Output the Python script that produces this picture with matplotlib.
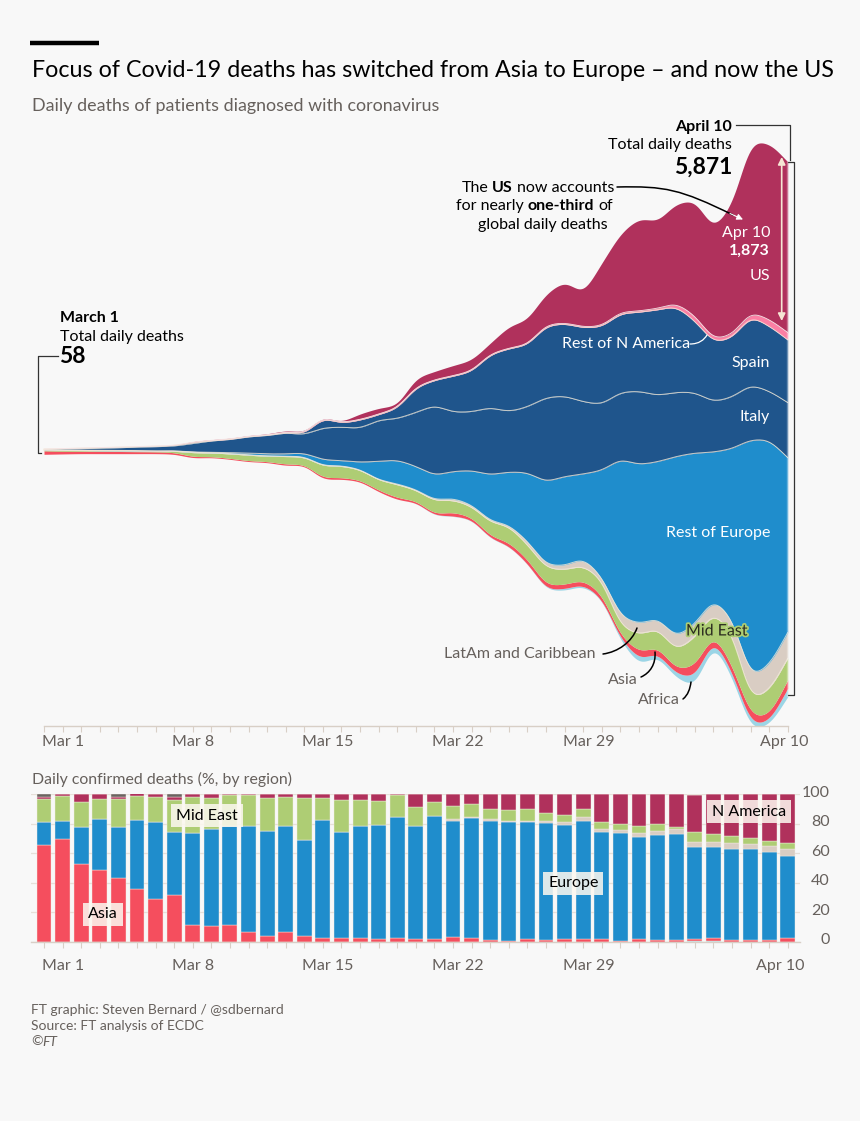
import numpy as np
import matplotlib
matplotlib.use("Agg")
import matplotlib.pyplot as plt
import matplotlib.patheffects as pe
from matplotlib.path import Path
from matplotlib.patches import PathPatch
from matplotlib.ticker import MultipleLocator
from matplotlib.transforms import ScaledTranslation

plt.rcParams['font.family'] = ['Lato', 'DejaVu Sans']

# ------------------------------------------------------------------
# Data: stream chart, daily deaths per region
# ------------------------------------------------------------------
days = np.arange(41)
tick_days = [0, 7, 14, 21, 28, 40]
tick_labels = ["Mar 1", "Mar 8", "Mar 15", "Mar 22", "Mar 29", "Apr 10"]

us = [1, 0, 1, 0, 0, 0, 0, 4, 7, 7, 7, 7, 11, 15, 11, 11, 11, 59, 62, 37, 92,
      92, 110, 117, 128, 231, 275, 348, 439, 403, 677, 860, 999, 970, 1098, 1244, 1233, 1446, 1830, 1922, 1873]
rest_na = [0, 0, 0, 0, 0, 0, 0, 0, 4, 4, 4, 4, 4, 4, 7, 7, 7, 7, 7, 7, 7,
           7, 7, 7, 7, 7, 7, 11, 11, 11, 11, 15, 15, 18, 37, 55, 37, 37, 48, 73, 81]
spain = [0, 4, 7, 7, 7, 7, 7, 7, 11, 4, 4, 4, 4, 7, 18, 92, 51, 84, 66, 121, 260,
         285, 388, 450, 578, 681, 688, 776, 794, 813, 849, 864, 871, 933, 926, 787, 666, 659, 739, 714, 688]
italy = [7, 11, 15, 22, 29, 37, 48, 55, 92, 124, 143, 179, 201, 227, 216, 340, 366, 377, 447, 465, 593,
         743, 659, 651, 725, 673, 732, 904, 878, 794, 732, 739, 794, 732, 703, 659, 564, 567, 593, 549, 604]
rest_europe = [4, 4, 4, 4, 4, 4, 0, 0, 4, 4, 11, 18, 22, 26, 40, 62, 59, 88, 198, 256, 256,
               271, 300, 381, 501, 589, 750, 900, 970, 952, 1190, 1676, 1742, 1739, 1951, 1867, 1662, 1903, 2518, 2434, 1921]
latam = [0, 2, 2, 2, 2, 2, 2, 4, 4, 4, 4, 4, 4, 4, 4, 4, 4, 4, 4, 7, 7,
         11, 18, 18, 15, 18, 37, 37, 48, 73, 48, 99, 117, 117, 143, 146, 146, 165, 238, 275, 282]
mid_east = [8, 8, 8, 6, 6, 6, 6, 15, 40, 40, 48, 59, 59, 81, 84, 124, 124, 113, 113, 139, 121,
            139, 132, 121, 150, 172, 165, 183, 161, 157, 154, 121, 183, 201, 212, 293, 249, 329, 209, 256, 238]
asia = [38, 30, 26, 25, 24, 22, 20, 18, 15, 11, 11, 11, 11, 15, 11, 18, 18, 15, 18, 22, 18,
        18, 37, 26, 26, 37, 44, 44, 48, 48, 44, 37, 73, 66, 62, 110, 62, 73, 84, 73, 92]
africa = [0, 0, 0, 0, 0, 0, 0, 0, 0, 0, 0, 0, 0, 0, 0, 0, 0, 0, 0, 0, 2,
          4, 4, 4, 4, 4, 4, 7, 18, 15, 7, 26, 55, 37, 48, 92, 55, 55, 55, 48, 92]
# bottom edge of the stream, in deaths below the centre line
baseline = [-22, -18, -15, -15, -15, -15, -15, -22, -59, -59, -77, -102, -113, -143, -154, -285, -296, -326, -432, -516, -560,
            -684, -703, -754, -937, -1039, -1230, -1482, -1512, -1482, -1636, -2050, -2298, -2262, -2463, -2518, -2170, -2481, -2976, -2968, -2683]

# ------------------------------------------------------------------
# Data: share of daily deaths by region, %
# ------------------------------------------------------------------
pc_africa = [0, 0, 0, 0, 0, 0, 0, 0, 0, 0, 0, 0, 0, 0, 0, 0, 0, 0, 0, 0, 0,
             0, 0, 0, 0.2, 0.2, 0.2, 0.2, 0.3, 0.3, 0.3, 0.3, 0.3, 0.3, 0.3, 0.7, 0.5, 0.3, 0.3, 0.3, 0.3]
pc_asia = [66, 70, 53, 49, 43, 36, 29, 32, 11.5, 10.5, 11.5, 7, 4, 7, 4, 3, 3, 3, 2, 3, 2,
           2, 3.5, 2.5, 1.3, 0.8, 1.8, 1.3, 1.7, 1.7, 1.7, 0.7, 1.7, 1.2, 1.2, 1.6, 2.5, 1.2, 1.2, 1.2, 2.2]
pc_europe = [15, 12, 24.8, 34.5, 34.7, 46.6, 52.5, 42.5, 62.6, 65.8, 66.7, 71.8, 71.2, 71.2, 65.1, 79.5, 71.6, 75.6, 77.3, 81.7, 76.6,
             83.6, 78.7, 81.3, 80.7, 80.3, 79.3, 78.9, 77.3, 80, 72.5, 72.6, 69.2, 70.7, 71.7, 61.7, 61.6, 61.7, 61.2, 59.4, 55.4]
pc_latam = [0, 0, 0, 0, 0, 0, 0, 0, 0, 0, 0, 0, 0, 0, 0, 0, 0, 0, 0, 0, 0,
            0, 0.9, 0.7, 0.9, 0.9, 0.9, 1.8, 1.8, 2.5, 2, 2.2, 2.9, 2.7, 3.4, 3.4, 3.4, 3.6, 3.6, 3.8, 5]
pc_mid_east = [15.5, 17, 17.1, 13.5, 18.9, 16.5, 16.7, 21.7, 23.9, 20.9, 21.3, 20.7, 22.1, 20.2, 28.4, 15.3, 21.8, 17.8, 16.2, 15.1, 13.1,
               9.4, 9, 8.7, 6.8, 7, 8.1, 5, 4.7, 5.4, 4.8, 4.4, 4.5, 4.7, 1.3, 7.1, 5.4, 4.7, 3.9, 3.7, 4]
pc_n_america = [1.5, 1, 5.1, 3.5, 1.4, 1.5, 1.8, 2, 2, 2.8, 0.5, 0.5, 2.7, 1.6, 2.5, 2.2, 3.6, 3.6, 4.5, 0.2, 8.3,
                5, 7.9, 6.8, 10.1, 10.8, 9.7, 12.8, 14.2, 10.1, 18.7, 19.8, 21.4, 20.3, 22.1, 25.2, 26.6, 28.4, 29.7, 31.5, 33.1]
pc_other = [2, 0, 0, 0, 2, 0, 0, 1.8, 0, 0, 0, 0, 0, 0, 0, 0, 0, 0, 0, 0, 0,
            0, 0, 0, 0, 0, 0, 0, 0, 0, 0, 0, 0, 0, 0, 0, 0, 0, 0, 0, 0]

# colours
BG = '#f8f8f8'
C_US = '#b0315c'
C_PINK = '#fb7fa4'
C_NAVY = '#1f558c'
C_BLUE = '#1f8dcc'
C_LATAM = '#d9cdc3'
C_GREEN = '#aecd74'
C_RED = '#f54e5e'
C_AFRICA = '#9bd5e6'
C_OTHER = '#6a6360'
GREY = '#66605c'
TICK = '#d8cfc6'


def smooth(values, n=12):
    # catmull-rom through the daily values, then a short moving average,
    # the stream in the original is drawn soft like this
    v = np.asarray(values, dtype=float)
    m = np.gradient(v)
    t = np.linspace(0, 1, n, endpoint=False)[:, None]
    h00 = 2 * t**3 - 3 * t**2 + 1
    h10 = t**3 - 2 * t**2 + t
    h01 = -2 * t**3 + 3 * t**2
    h11 = t**3 - t**2
    out = h00 * v[:-1] + h10 * m[:-1] + h01 * v[1:] + h11 * m[1:]
    out = np.append(out.T.ravel(), v[-1])
    kernel = np.bartlett(15)
    kernel = kernel / kernel.sum()
    padded = np.pad(out, 7, mode='reflect', reflect_type='odd')
    return np.convolve(padded, kernel, mode='valid')


W, H = 860, 1121
fig = plt.figure(figsize=(W / 100, H / 100), dpi=100, facecolor=BG)


def px_axes(left, top, right, bottom):
    return fig.add_axes([left / W, 1 - bottom / H, (right - left) / W, (bottom - top) / H])


def shift_labels(axis_labels, dx, dy=0):
    for lab in axis_labels:
        lab.set_transform(lab.get_transform() + ScaledTranslation(dx / 100, dy / 100, fig.dpi_scale_trans))


X0, X40 = 44.0, 787.7
DAY = (X40 - X0) / 40
SCALE = 535 / 5871  # pixels per death
Y_ZERO = 452.3

# ------------------------------------------------------------------
# Stream chart
# ------------------------------------------------------------------
ax = px_axes(X0, 120, X40, 726)
ax.set_facecolor('none')
ax.set_xlim(0, 40)
ax.set_ylim((Y_ZERO - 726) / SCALE, (Y_ZERO - 120) / SCALE)

xs = np.linspace(0, 40, 40 * 12 + 1)
stack = [(africa, C_AFRICA), (asia, C_RED), (mid_east, C_GREEN), (latam, C_LATAM),
         (rest_europe, C_BLUE), (italy, C_NAVY), (spain, C_NAVY), (rest_na, C_PINK), (us, C_US)]
low = smooth(baseline)
for i, (vals, col) in enumerate(stack):
    high = low + np.clip(smooth(vals), 0, None)
    ax.fill_between(xs, low, high, color=col, lw=0, zorder=2)
    if i in (2, 3, 4, 5, 6):
        ax.plot(xs, high, color='#f3ead8', lw=0.7, alpha=0.8, zorder=3, clip_on=False)
    if i == 7:
        ax.plot(xs, high, color='#f7e3e6', lw=0.6, zorder=3)
    low = high

for s in ('top', 'left', 'right'):
    ax.spines[s].set_visible(False)
ax.spines['bottom'].set_color(TICK)
ax.spines['bottom'].set_linewidth(1)
ax.set_yticks([])
ax.xaxis.set_minor_locator(MultipleLocator(1))
ax.set_xticks(tick_days, tick_labels)
ax.tick_params(axis='x', which='both', length=4.5, width=0.8, color=TICK)
ax.tick_params(axis='x', which='major', pad=2, labelsize=11.5, labelcolor=GREY)
for lab in ax.get_xticklabels():
    lab.set_ha('left')
ax.get_xticklabels()[-1].set_ha('center')
shift_labels(ax.get_xticklabels()[:-1], -2)
shift_labels(ax.get_xticklabels()[-1:], -3)

# ------------------------------------------------------------------
# Stacked bars
# ------------------------------------------------------------------
bx = px_axes(31, 794.3, 800, 942)
bx.set_facecolor('none')
bx.set_xlim((31 - X0) / DAY, (800 - X0) / DAY)
bx.set_ylim(0, 100)
bx.set_axisbelow(True)
bx.yaxis.grid(True, color='#e6dfd8', lw=0.9)
bars = [(pc_africa, C_AFRICA), (pc_asia, C_RED), (pc_europe, C_BLUE), (pc_latam, C_LATAM),
        (pc_mid_east, C_GREEN), (pc_n_america, C_US), (pc_other, C_OTHER)]
bottom = np.zeros(len(days))
for vals, col in bars:
    bx.bar(days, vals, bottom=bottom, width=0.8, color=col, edgecolor='#f4ede4', linewidth=0.3, zorder=2)
    bottom = bottom + np.array(vals)

for s in ('top', 'left', 'right'):
    bx.spines[s].set_visible(False)
bx.spines['bottom'].set_color(TICK)
bx.spines['bottom'].set_linewidth(1)
bx.yaxis.tick_right()
bx.set_yticks([0, 20, 40, 60, 80, 100])
bx.tick_params(axis='y', length=0, pad=21.5, labelsize=11.5, labelcolor=GREY)
for lab in bx.get_yticklabels():
    lab.set_ha('right')
shift_labels(bx.get_yticklabels(), 0, 3)
bx.xaxis.set_minor_locator(MultipleLocator(1))
bx.set_xticks(tick_days, tick_labels)
bx.tick_params(axis='x', which='both', length=4.5, width=0.8, color=TICK)
bx.tick_params(axis='x', which='major', pad=7.8, labelsize=11.5, labelcolor=GREY)
for lab in bx.get_xticklabels():
    lab.set_ha('left')
bx.get_xticklabels()[-1].set_ha('center')
shift_labels(bx.get_xticklabels()[:-1], -2)
shift_labels(bx.get_xticklabels()[-1:], -7)

# ------------------------------------------------------------------
# Overlay in picture pixels for titles and call-outs
# ------------------------------------------------------------------
ov = fig.add_axes([0, 0, 1, 1], zorder=10)
ov.set_xlim(0, W)
ov.set_ylim(H, 0)
ov.axis('off')


def label(x, y, s, size=11.5, color='black', ha='left', weight='normal', **kw):
    # Lato sits a bit high when centred, hence the extra 1.5 px
    return ov.text(x, y + 1.5, s, fontsize=size, color=color, ha=ha, va='center', fontweight=weight, **kw)


def curve(pts, color='black', lw=1.1):
    codes = [Path.MOVETO] + [Path.CURVE4] * (len(pts) - 1)
    ov.add_patch(PathPatch(Path(pts, codes), fc='none', ec=color, lw=lw, capstyle='round'))


ov.plot([30, 99], [43, 43], color='black', lw=3.2, solid_capstyle='butt')
label(32, 69, "Focus of Covid-19 deaths has switched from Asia to Europe \u2013 and now the US", size=16.72)
label(32, 105, "Daily deaths of patients diagnosed with coronavirus", size=12.85, color=GREY)

# March 1 call-out
label(59.5, 317, "March 1", weight='bold')
label(59.5, 335, "Total daily deaths")
label(59.5, 355, "58", size=16.5, weight='bold')
ov.plot([58, 38, 38, 41], [355.5, 355.5, 452.5, 452.5], color='#333333', lw=0.9)

# April 10 call-out
label(732, 125, "April 10", ha='right', weight='bold')
label(732, 143, "Total daily deaths", ha='right')
label(732, 166, "5,871", size=16.5, ha='right', weight='bold')
ov.plot([736, 790, 790], [124.5, 124.5, 160], color='#333333', lw=0.9)
ov.plot([787.7, 794, 794, 787.7], [161.5, 161.5, 695, 695], color='#333333', lw=0.9)
ov.plot([787, 787], [162, 696], color='white', lw=1, alpha=0.35)
ov.annotate('', xy=(781.7, 157), xytext=(781.7, 321),
            arrowprops=dict(arrowstyle='<|-|>', color='#f6e6d4', lw=1.2, shrinkA=0, shrinkB=0, mutation_scale=11))

# US note
label(462, 186, "The")
label(492, 186, "US", weight='bold')
label(517, 186, "now accounts")
label(456, 204.5, "for nearly")
label(527, 204.5, "one-third", weight='bold')
label(598, 204.5, "of")
label(608, 223, "global daily deaths", ha='right')
curve([(617, 187), (665, 186), (680, 189), (733, 215)])
ov.annotate('', xy=(743, 219.5), xytext=(730, 213.5),
            arrowprops=dict(arrowstyle='-|>', color='white', lw=0.8, shrinkA=0, shrinkB=0, mutation_scale=9))

# labels on the stream
label(770, 231, "Apr 10", color='white', ha='right')
label(770, 249, "1,873", color='white', ha='right', weight='bold')
label(770, 275, "US", color='white', ha='right')
label(562, 343, "Rest of N America", color='white')
curve([(690, 344), (699, 344), (704, 340), (707, 335)], color='white', lw=0.9)
label(770, 361, "Spain", color='white', ha='right')
label(770, 416, "Italy", color='white', ha='right')
label(770, 532, "Rest of Europe", color='white', ha='right')
label(686, 630, "Mid East", color='#2b2b20',
      path_effects=[pe.withStroke(linewidth=2.5, foreground=C_GREEN)])

label(444, 653, "LatAm and Caribbean", color=GREY)
curve([(603, 654), (618, 652), (632, 642), (637, 628)])
label(608, 679, "Asia", color=GREY)
curve([(641, 677), (650, 673), (656, 664), (655, 652)])
label(638, 699, "Africa", color=GREY)
curve([(683, 699), (688, 695), (690, 689), (691, 682)])

# bar chart labels
label(32, 778, "Daily confirmed deaths (%, by region)", size=11.42, color=GREY)
box = dict(facecolor='#fcf8f0', alpha=0.86, edgecolor='none', pad=3.5)
label(176, 814, "Mid East", bbox=box)
label(88, 913, "Asia", bbox=box)
label(548, 882, "Europe", bbox=box)
label(712, 810, "N America", bbox=box)

# footer
label(31, 1008, "FT graphic: Steven Bernard / @sdbernard", size=10, color=GREY)
label(31, 1024, "Source: FT analysis of ECDC", size=10, color=GREY)
label(31, 1040, "\u00a9", size=10, color=GREY)
label(42, 1040, "FT", size=10, color=GREY, style='italic')

fig.savefig('out.png', dpi=100, facecolor=BG)
